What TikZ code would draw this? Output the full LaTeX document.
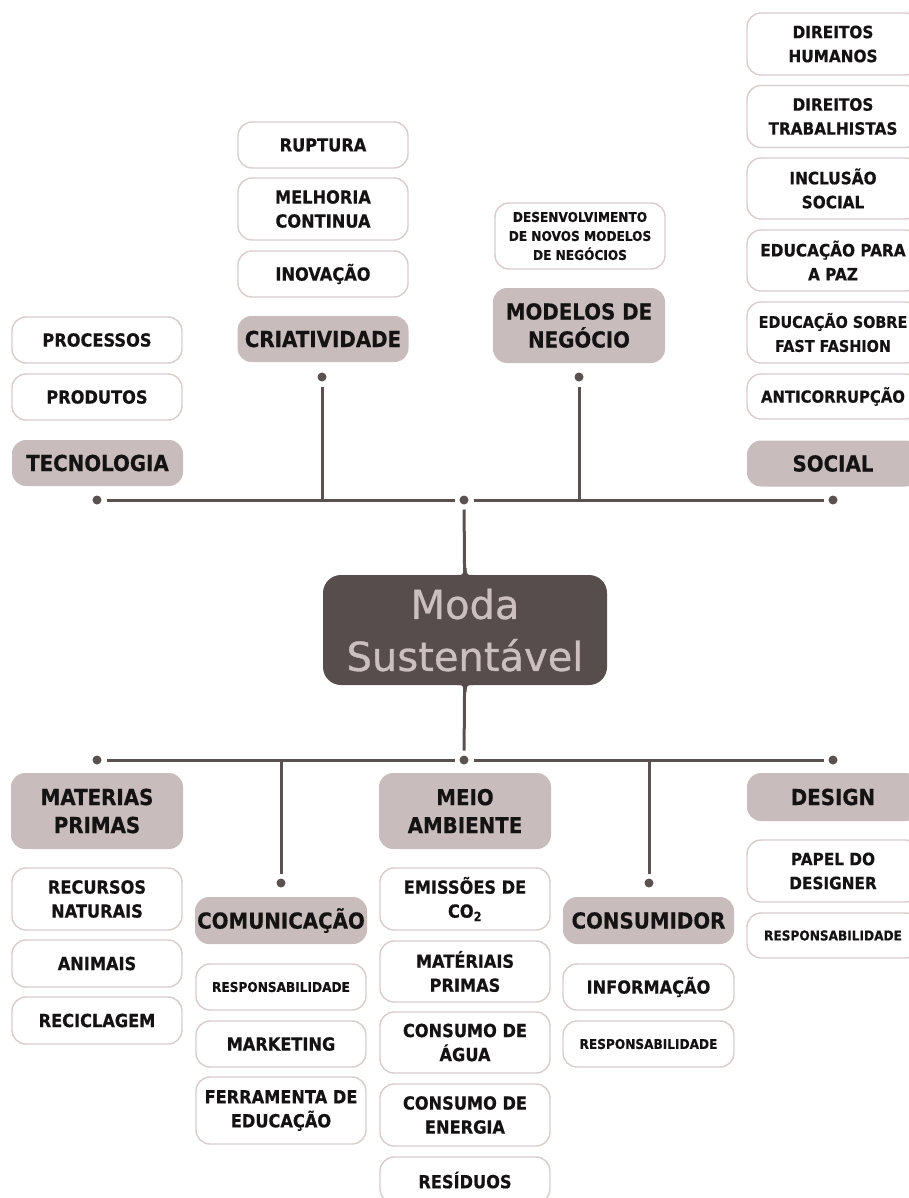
\documentclass[tikz,border=0pt]{standalone}
\usepackage{fontspec}
\newfontfamily\labfont{DejaVu Sans Bold}[FakeStretch=0.9, FakeBold=0.5]
\newfontfamily\titlefont{DejaVu Sans}[FakeBold=0.8]
\definecolor{catfill}{HTML}{C8BCBC}
\definecolor{itemline}{HTML}{D8CDCD}
\definecolor{linecol}{HTML}{5B5151}
\definecolor{hubfill}{HTML}{574D4D}
\definecolor{hubtext}{HTML}{CBBFBF}
\definecolor{txt}{HTML}{141212}
\tikzset{
  box/.style={rounded corners=14pt, align=center, inner sep=0pt, text=txt},
  cat/.style={box, fill=catfill, minimum width=172pt, minimum height=46pt,
    font=\labfont\fontsize{22}{28}\selectfont},
  item/.style={box, fill=white, draw=itemline, line width=1.4pt,
    minimum width=170pt, minimum height=46pt,
    font=\labfont\fontsize{18}{24}\selectfont},
  small/.style={item, font=\labfont\fontsize{13.5}{19}\selectfont},
  edge item/.style={item, minimum width=172pt, font=\labfont\fontsize{17}{24}\selectfont},
  dot/.style={circle, fill=linecol, minimum size=9pt, inner sep=0pt, outer sep=5pt},
  conn/.style={draw=linecol, line width=3pt},
  hub/.style={rounded corners=18pt, fill=hubfill, text=hubtext, align=center,
    minimum width=284pt, minimum height=110pt, inner sep=0pt, outer sep=0pt,
    font=\titlefont\fontsize{40}{52}\selectfont},
}
\begin{document}
\begin{tikzpicture}[x=1pt,y=-1pt]
\useasboundingbox (0,0) rectangle (909,1198);
\clip (0,0) rectangle (909,1198);

% central hub
\node[hub] (ms) at (465,630) {Moda\\Sustentável};

% upper branch
\node[dot] (tl) at (97,500) {};
\node[dot] (tc) at (464,500) {};
\node[dot] (tr) at (833,500) {};
\node[dot] (crdot) at (322,377) {};
\node[dot] (mndot) at (579,377) {};
\coordinate (crj) at (322,500);
\coordinate (mnj) at (579,500);

% Tecnologia
\node[item] (proc) at (97,340) {PROCESSOS};
\node[item] (prod) at (97,397) {PRODUTOS};
\node[cat, minimum width=171pt] (tec) at (97.5,463) {TECNOLOGIA};

% Criatividade
\node[item] (rup) at (323,145) {RUPTURA};
\node[item, minimum height=62pt] (mel) at (323,209) {MELHORIA\\CONTINUA};
\node[item] (inov) at (323,274) {INOVAÇÃO};
\node[cat, minimum width=171pt] (cri) at (323,339) {CRIATIVIDADE};

% Modelos de negócio
\node[small, minimum height=66pt] (des) at (580,236) {DESENVOLVIMENTO\\DE NOVOS MODELOS\\DE NEGÓCIOS};
\node[cat, minimum height=75pt] (mod) at (579,325.5) {MODELOS DE\\NEGÓCIO};

% Social
\node[edge item, minimum height=62pt] (dh) at (833,44) {DIREITOS\\HUMANOS};
\node[edge item, minimum height=62pt] (dt) at (833,116.5) {DIREITOS\\TRABALHISTAS};
\node[edge item, minimum height=61pt] (inc) at (833,188.5) {INCLUSÃO\\SOCIAL};
\node[edge item, minimum height=61pt] (paz) at (833,260.5) {EDUCAÇÃO PARA\\A PAZ};
\node[edge item, minimum height=61pt, font=\labfont\fontsize{16}{24}\selectfont] (ff) at (833,332.5) {EDUCAÇÃO SOBRE\\FAST FASHION};
\node[edge item, minimum height=45pt, font=\labfont\fontsize{16.5}{24}\selectfont] (anti) at (833,396.5) {ANTICORRUPÇÃO};
\node[cat] (soc) at (833,463.5) {SOCIAL};

\draw[conn] (tl) -- (tc) -- (tr);
\draw[conn] (crdot) -- (crj);
\draw[conn] (mndot) -- (mnj);
\draw[conn] (tc) -- (ms);

% lower branch
\node[dot] (bl) at (97,760) {};
\node[dot] (bc) at (464,760) {};
\node[dot] (br) at (833,760) {};
\node[dot] (codot) at (281,883) {};
\node[dot] (csdot) at (649,883) {};
\coordinate (coj) at (281,760);
\coordinate (csj) at (649,760);

% Materias primas
\node[cat, minimum height=76pt] (mat) at (97,811) {MATERIAS\\PRIMAS};
\node[item, minimum height=62pt] (rec) at (97,899) {RECURSOS\\NATURAIS};
\node[item, minimum height=47pt] (ani) at (97,963.5) {ANIMAIS};
\node[item, minimum height=47pt] (recic) at (97,1020.5) {RECICLAGEM};

% Comunicação
\node[cat, minimum height=47pt] (com) at (281,920.5) {COMUNICAÇÃO};
\node[small] (comr) at (281,987) {RESPONSABILIDADE};
\node[item] (mkt) at (281,1044) {MARKETING};
\node[item, minimum height=67pt] (fer) at (281,1110.5) {FERRAMENTA DE\\EDUCAÇÃO};

% Meio ambiente
\node[cat, minimum height=76pt] (mei) at (465,811) {MEIO\\AMBIENTE};
\node[item, minimum height=62pt] (emi) at (465,899) {EMISSÕES DE\\CO\textsubscript{2}};
\node[item, minimum height=61pt] (mtp) at (465,971.5) {MATÉRIAIS\\PRIMAS};
\node[item, minimum height=61pt] (agua) at (465,1042.5) {CONSUMO DE\\ÁGUA};
\node[item, minimum height=62pt] (ene) at (465,1115) {CONSUMO DE\\ENERGIA};
\node[item] (res) at (465,1180) {RESÍDUOS};

% Consumidor
\node[cat, minimum width=171pt, minimum height=47pt] (con) at (648.5,920.5) {CONSUMIDOR};
\node[item, minimum width=171pt] (inf) at (648.5,987) {INFORMAÇÃO};
\node[small, minimum width=171pt] (conr) at (648.5,1044) {RESPONSABILIDADE};

% Design
\node[cat, minimum height=48pt] (dsg) at (833,797) {DESIGN};
\node[edge item, minimum height=62pt] (pap) at (833,871) {PAPEL DO\\DESIGNER};
\node[small, minimum width=172pt, minimum height=45pt] (dsgr) at (833,935.5) {RESPONSABILIDADE};

\draw[conn] (bl) -- (bc) -- (br);
\draw[conn] (coj) -- (codot);
\draw[conn] (csj) -- (csdot);
\draw[conn] (ms) -- (bc);

% flared joints where the trunk meets the hub
\fill[hubfill] ([xshift=-8pt]ms.north) .. controls ([xshift=-2pt]ms.north) .. ([xshift=-1.5pt,yshift=7pt]ms.north)
  -- ([xshift=1.5pt,yshift=7pt]ms.north) .. controls ([xshift=2pt]ms.north) .. ([xshift=8pt]ms.north) -- cycle;
\fill[hubfill] ([xshift=-8pt]ms.south) .. controls ([xshift=-2pt]ms.south) .. ([xshift=-1.5pt,yshift=-7pt]ms.south)
  -- ([xshift=1.5pt,yshift=-7pt]ms.south) .. controls ([xshift=2pt]ms.south) .. ([xshift=8pt]ms.south) -- cycle;
\end{tikzpicture}
\end{document}
